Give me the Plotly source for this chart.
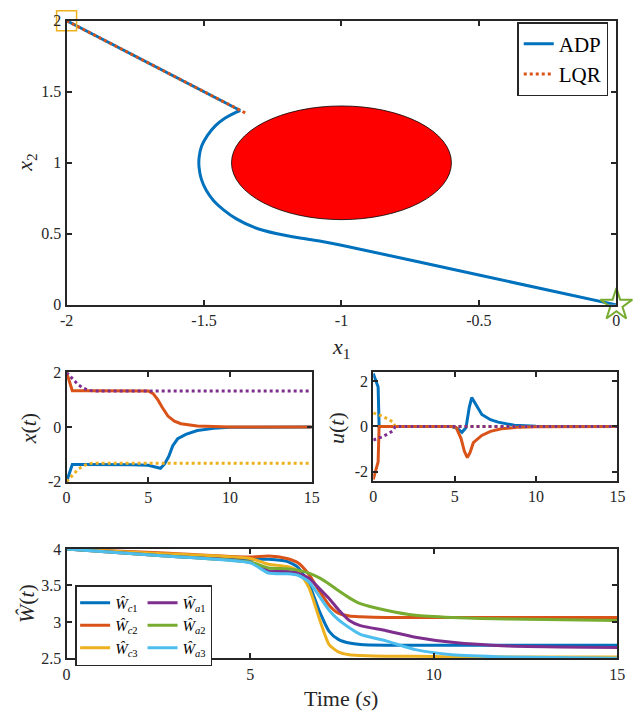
import plotly.graph_objects as go

# MATLAB default line colours
BLUE = "#0072BD"
ORANGE = "#D95319"
YELLOW = "#EDB120"
PURPLE = "#7E2F8E"
GREEN = "#77AC30"
CYAN = "#4DBEEE"
AXC = "#262626"
FONT = "Liberation Serif"

# ---- phase plane (x1, x2) ----
adp_x1 = [-2.0, -1.368, -1.388, -1.423, -1.459, -1.488, -1.509, -1.518, -1.518, -1.510,
          -1.492, -1.465, -1.429, -1.382, -1.317, -1.234, -1.151, -1.080, -1.0, -0.500, 0.0]
adp_x2 = [2.0, 1.368, 1.352, 1.315, 1.260, 1.191, 1.116, 1.035, 0.967, 0.887,
          0.806, 0.733, 0.669, 0.605, 0.545, 0.500, 0.470, 0.449, 0.420, 0.210, 0.0]
lqr_x1 = [-2.0, -1.346]
lqr_x2 = [2.0, 1.347]
start_pt = [-2.0, 2.0]
goal_pt = [0.0, 0.0]
obstacle_center = [-1.0, 1.0]
obstacle_radius = 0.4

# ---- states x(t) ----
t_x1_adp = [0, 0.35, 1, 2, 3, 4, 5.0, 5.4, 5.75, 6.0, 6.25, 6.5, 6.8, 7.3, 8.0, 9.0, 10.0, 15.0]
x1_adp = [-2.0, -1.37, -1.37, -1.37, -1.37, -1.38, -1.40, -1.45, -1.51, -1.35, -1.08, -0.68,
          -0.43, -0.27, -0.13, -0.05, -0.01, 0.0]
t_x2_adp = [0, 0.35, 1, 2, 3, 4, 5.0, 5.3, 5.6, 5.85, 6.2, 6.6, 7.0, 8.0, 9.0, 10.0, 15.0]
x2_adp = [2.0, 1.33, 1.33, 1.33, 1.33, 1.33, 1.32, 1.22, 0.98, 0.72, 0.40, 0.21, 0.12, 0.04,
          0.01, 0.0, 0.0]
t_x_lqr = [0, 0.4, 0.7, 1.0, 1.3, 1.6, 15.0]
x1_lqr = [-2.0, -1.75, -1.55, -1.43, -1.35, -1.32, -1.32]
x2_lqr = [2.0, 1.75, 1.55, 1.43, 1.35, 1.32, 1.32]

# ---- controls u(t) ----
t_u1_adp = [0, 0.3, 0.36, 4.8, 5.2, 5.45, 5.7, 5.9, 6.05, 6.3, 6.67, 7.2, 7.67, 8.67, 10.0, 15.0]
u1_adp = [2.35, 1.75, 0.0, 0.0, -0.1, -0.26, -0.05, 0.85, 1.28, 0.95, 0.53, 0.30, 0.19, 0.05,
          0.01, 0.0]
t_u2_adp = [0, 0.3, 0.36, 4.8, 5.1, 5.4, 5.6, 5.78, 5.95, 6.15, 6.67, 7.2, 7.87, 9.0, 10.0, 15.0]
u2_adp = [-2.35, -1.57, 0.0, 0.0, -0.05, -0.55, -1.1, -1.38, -1.15, -0.72, -0.40, -0.22, -0.1,
          -0.03, -0.01, 0.0]
t_u_lqr = [0, 0.5, 0.9, 1.2, 1.35, 15.0]
u1_lqr = [0.6, 0.47, 0.33, 0.2, 0.0, 0.0]
u2_lqr = [-0.6, -0.47, -0.33, -0.2, 0.0, 0.0]

# ---- weights W(t) ----
t_w = [0, 2.5, 5.0, 5.5, 6.0, 6.3, 6.6, 6.9, 7.15, 7.4, 7.7, 8.0, 8.7, 9.5, 10.5, 12.0, 15.0]
w_c1 = [4.0, 3.93, 3.86, 3.86, 3.83, 3.75, 3.52, 3.13, 2.87, 2.76, 2.71, 2.69, 2.68, 2.68, 2.68, 2.68, 2.68]
w_c2 = [4.0, 3.95, 3.89, 3.905, 3.87, 3.81, 3.65, 3.41, 3.23, 3.12, 3.08, 3.07, 3.06, 3.06, 3.06, 3.06, 3.06]
w_c3 = [4.0, 3.94, 3.87, 3.79, 3.76, 3.70, 3.47, 3.02, 2.69, 2.59, 2.55, 2.54, 2.53, 2.53, 2.52, 2.52, 2.52]
w_a1 = [4.0, 3.91, 3.82, 3.70, 3.69, 3.67, 3.60, 3.45, 3.32, 3.17, 3.02, 2.95, 2.88, 2.79, 2.72, 2.67, 2.65]
w_a2 = [4.0, 3.91, 3.82, 3.74, 3.73, 3.71, 3.67, 3.60, 3.52, 3.43, 3.33, 3.25, 3.16, 3.09, 3.06, 3.04, 3.02]
w_a3 = [4.0, 3.91, 3.81, 3.67, 3.66, 3.64, 3.55, 3.34, 3.16, 3.03, 2.92, 2.83, 2.74, 2.62, 2.55, 2.52, 2.50]
w_names = ["<i>Ŵ</i><sub><i>c</i>1</sub>", "<i>Ŵ</i><sub><i>c</i>2</sub>", "<i>Ŵ</i><sub><i>c</i>3</sub>",
           "<i>Ŵ</i><sub><i>a</i>1</sub>", "<i>Ŵ</i><sub><i>a</i>2</sub>", "<i>Ŵ</i><sub><i>a</i>3</sub>"]

fig = go.Figure()

# phase plane
fig.add_shape(type="circle", xref="x", yref="y",
              x0=obstacle_center[0] - obstacle_radius, x1=obstacle_center[0] + obstacle_radius,
              y0=obstacle_center[1] - obstacle_radius, y1=obstacle_center[1] + obstacle_radius,
              fillcolor="#FF0000", line=dict(color="black", width=0.8), layer="below")
# straight approach segment, then the smooth avoidance curve
fig.add_trace(go.Scatter(x=adp_x1[:2], y=adp_x2[:2], mode="lines", name="ADP", legendgroup="adp",
                         line=dict(color=BLUE, width=3), xaxis="x", yaxis="y", legend="legend"))
fig.add_trace(go.Scatter(x=adp_x1[1:], y=adp_x2[1:], mode="lines", name="ADP", legendgroup="adp",
                         showlegend=False, line=dict(color=BLUE, width=3, shape="spline", smoothing=0.8),
                         xaxis="x", yaxis="y"))
fig.add_trace(go.Scatter(x=lqr_x1, y=lqr_x2, mode="lines", name="LQR",
                         line=dict(color=ORANGE, width=3, dash="dot"), xaxis="x", yaxis="y",
                         legend="legend"))
fig.add_trace(go.Scatter(x=[start_pt[0]], y=[start_pt[1]], mode="markers", showlegend=False,
                         marker=dict(symbol="square-open", size=20, color=YELLOW, line=dict(width=1.5)),
                         cliponaxis=False, xaxis="x", yaxis="y"))
fig.add_trace(go.Scatter(x=[goal_pt[0]], y=[goal_pt[1]], mode="markers", showlegend=False,
                         marker=dict(symbol="star-open", size=24, color=GREEN, line=dict(width=2)),
                         cliponaxis=False, xaxis="x", yaxis="y"))

# states
for t, v, c, d in [(t_x1_adp, x1_adp, BLUE, "solid"), (t_x2_adp, x2_adp, ORANGE, "solid"),
                   (t_x_lqr, x1_lqr, YELLOW, "dot"), (t_x_lqr, x2_lqr, PURPLE, "dot")]:
    fig.add_trace(go.Scatter(x=t, y=v, mode="lines", showlegend=False,
                             line=dict(color=c, width=3, dash=d), xaxis="x2", yaxis="y2"))

# controls
for t, v, c, d in [(t_u1_adp, u1_adp, BLUE, "solid"), (t_u2_adp, u2_adp, ORANGE, "solid"),
                   (t_u_lqr, u1_lqr, YELLOW, "dot"), (t_u_lqr, u2_lqr, PURPLE, "dot")]:
    fig.add_trace(go.Scatter(x=t, y=v, mode="lines", showlegend=False,
                             line=dict(color=c, width=3, dash=d), xaxis="x3", yaxis="y3"))

# weights
for i, (v, c) in enumerate(zip([w_c1, w_c2, w_c3, w_a1, w_a2, w_a3],
                               [BLUE, ORANGE, YELLOW, PURPLE, GREEN, CYAN])):
    fig.add_trace(go.Scatter(x=t_w, y=v, mode="lines", name=w_names[i],
                             legendgroup="c" if i < 3 else "a",
                             line=dict(color=c, width=3, shape="spline", smoothing=0.6),
                             xaxis="x4", yaxis="y4", legend="legend2"))


def ax(domain, rng, tickvals, ticktext, anchor):
    return dict(domain=domain, range=rng, tickvals=tickvals, ticktext=ticktext, anchor=anchor,
                showline=True, linecolor=AXC, linewidth=2, mirror="ticks", ticks="inside",
                ticklen=5, tickwidth=1.5, tickcolor=AXC, showgrid=False, zeroline=False,
                tickfont=dict(family=FONT, size=16, color=AXC))


fig.update_layout(
    width=640, height=723, autosize=False,
    margin=dict(l=0, r=0, t=0, b=0),
    paper_bgcolor="white", plot_bgcolor="white",
    font=dict(family=FONT, color=AXC),
    xaxis=ax([0.0953, 0.975], [-2, 0], [-2, -1.5, -1, -0.5, 0], ["-2", "-1.5", "-1", "-0.5", "0"], "y"),
    yaxis=ax([0.5795, 0.982], [0, 2], [0, 0.5, 1, 1.5, 2], ["0", "0.5", "1", "1.5", "2"], "x"),
    xaxis2=ax([0.0953, 0.4875], [0, 15], [0, 5, 10, 15], ["0", "5", "10", "15"], "y2"),
    yaxis2=ax([0.329, 0.484], [-2, 2], [-2, 0, 2], ["-2", "0", "2"], "x2"),
    xaxis3=ax([0.586, 0.9766], [0, 15], [0, 5, 10, 15], ["0", "5", "10", "15"], "y3"),
    yaxis3=ax([0.3306, 0.484], [-2.4, 2.4], [-2, 0, 2], ["-2", "0", "2"], "x3"),
    xaxis4=ax([0.0953, 0.9766], [0, 15], [0, 5, 10, 15], ["0", "5", "10", "15"], "y4"),
    yaxis4=ax([0.0788, 0.2337], [2.5, 4], [2.5, 3, 3.5, 4], ["2.5", "3", "3.5", "4"], "x4"),
    legend=dict(x=0.962, y=0.98, xanchor="right", yanchor="top", bgcolor="white",
                bordercolor=AXC, borderwidth=1.5, font=dict(family=FONT, size=21, color="black"),
                tracegroupgap=0, itemwidth=30),
    legend2=dict(x=0.109, y=0.1826, xanchor="left", yanchor="top", bgcolor="white",
                 orientation="h", traceorder="grouped", tracegroupgap=0,
                 bordercolor=AXC, borderwidth=1.5, font=dict(family=FONT, size=15, color="black"),
                 itemwidth=30),
)

labels = [
    ("<i>x</i><sub>1</sub>", 342, 348, 0),
    ("<i>x</i><sub>2</sub>", 20, 159, -90),
    ("<i>x</i>(<i>t</i>)", 22, 430, -90),
    ("<i>u</i>(<i>t</i>)", 338, 430, -90),
    ("<i>Ŵ</i>(<i>t</i>)", 20, 610, -90),
    ("Time (<i>s</i>)", 342, 707, 0),
]
for txt, px, py, ang in labels:
    fig.add_annotation(text=txt, x=px / 640, y=1 - py / 723, xref="paper", yref="paper",
                       showarrow=False, textangle=ang, xanchor="center", yanchor="middle",
                       font=dict(family=FONT, size=22, color=AXC))

fig.write_html("out.html", config={"displayModeBar": False},
               post_script="document.body.style.margin='0';")
